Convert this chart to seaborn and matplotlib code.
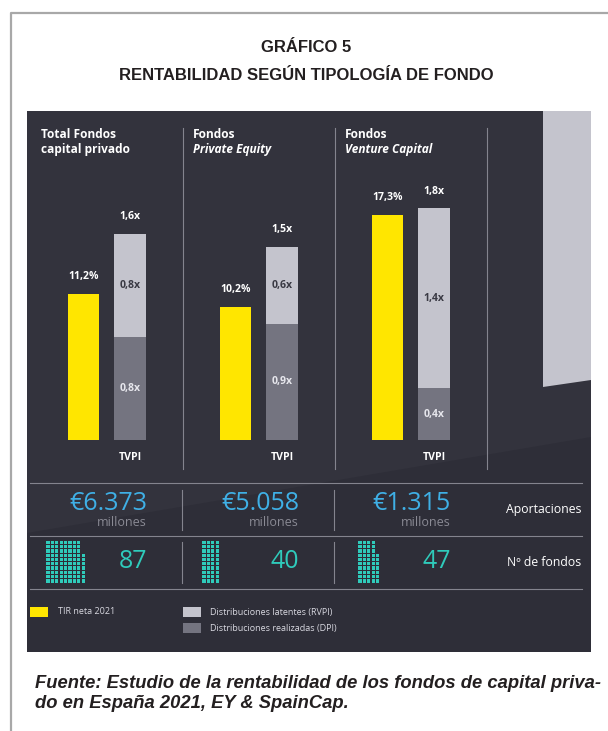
import numpy as np
import matplotlib.pyplot as plt
import matplotlib.patches as mpatches
import pandas as pd
import seaborn as sns

# datos del grafico
fondos = ["Total", "PE", "VC"]
titulo_1 = ["Total Fondos", "Fondos", "Fondos"]
titulo_2 = ["capital privado", "Private Equity", "Venture Capital"]
tir = [11.2, 10.2, 17.3]
dpi = [0.8, 0.9, 0.4]
rvpi = [0.8, 0.6, 1.4]
tvpi = [1.6, 1.5, 1.8]
aportaciones = ["€6.373", "€5.058", "€1.315"]
n_fondos = [87, 40, 47]
leyenda = ["TIR neta 2021", "Distribuciones latentes (RVPI)", "Distribuciones realizadas (DPI)"]

# colores
amarillo = "#ffe600"
gris_claro = "#c4c4cd"
gris_osc = "#747480"
fondo = "#2e2e38"
azul = "#3fb0e6"
turquesa = "#2fcbbb"
linea = "#84848e"

W, H = 608, 731
fig = plt.figure(figsize=(W / 100, H / 100), dpi=100)
plt.rcParams["font.family"] = ["Open Sans", "DejaVu Sans"]

# capa de fondo en pixeles
bg = fig.add_axes([0, 0, 1, 1])
bg.set_xlim(0, W)
bg.set_ylim(H, 0)
bg.axis("off")

# marco de la pagina
bg.plot([11, 11, W], [H, 13, 13], color="#a8a8a8", lw=1.6, solid_capstyle="butt")
bg.text(306, 48, "GRÁFICO 5", ha="center", va="center", fontsize=12,
        fontweight="bold", family="Liberation Sans", color="#231f20")
bg.text(306, 75, "RENTABILIDAD SEGÚN TIPOLOGÍA DE FONDO", ha="center", va="center",
        fontsize=12, fontweight="bold", family="Liberation Sans", color="#231f20")

# panel oscuro
bg.add_patch(mpatches.Rectangle((27, 111), 564, 541, color=fondo, lw=0))
bg.add_patch(mpatches.Polygon([(27, 111), (591, 111), (591, 437), (27, 533)],
                              closed=True, color="#33333d", lw=0))
bg.add_patch(mpatches.Polygon([(543, 111), (591, 111), (591, 380), (543, 387)],
                              closed=True, color=gris_claro, lw=0))

# separadores
for x in [183, 335, 487]:
    bg.plot([x, x], [128, 469], color=linea, lw=0.8)
for y in [483, 536, 589]:
    bg.plot([30, 582], [y, y], color=linea, lw=0.8)
for x in [182, 334]:
    bg.plot([x, x], [490, 530], color=linea, lw=0.8)
    bg.plot([x, x], [542, 583], color=linea, lw=0.8)

# cabeceras
for i in range(3):
    x0 = 41 + i * 152
    bg.text(x0, 134, titulo_1[i], ha="left", va="center", fontsize=8.6,
            fontweight="bold", color="white")
    bg.text(x0, 149, titulo_2[i], ha="left", va="center", fontsize=8.6,
            fontweight="bold", style="normal" if i == 0 else "italic", color="white")

# aportaciones y numero de fondos
for i in range(3):
    xr = 147 + i * 152
    bg.text(xr, 503, aportaciones[i], ha="right", va="center", fontsize=18, color=azul)
    bg.text(xr, 522, "millones", ha="right", va="center", fontsize=9, color="#8a8a94")
    bg.text(xr, 562, str(n_fondos[i]), ha="right", va="center", fontsize=18, color=turquesa)
    # rejilla de puntos, 10 filas, se llena por columnas desde abajo
    k = np.arange(n_fondos[i])
    px = 48 + i * 156 + (k // 10) * 4.4
    py = 581 - (k % 10) * 4.3
    sns.scatterplot(x=px, y=py, ax=bg, marker="s", s=5.5, color=turquesa,
                    edgecolor="none", linewidth=0, legend=False)
bg.text(581, 510, "Aportaciones", ha="right", va="center", fontsize=8.8, color="white")
bg.text(581, 562, "Nº de fondos", ha="right", va="center", fontsize=8.8, color="white")

# leyenda
bg.add_patch(mpatches.Rectangle((30, 607), 18, 10, color=amarillo, lw=0))
bg.add_patch(mpatches.Rectangle((183, 607), 18, 10, color=gris_claro, lw=0))
bg.add_patch(mpatches.Rectangle((183, 623), 18, 10, color=gris_osc, lw=0))
bg.text(58, 612, leyenda[0], ha="left", va="center", fontsize=6.5, color="#d8d8e0")
bg.text(210, 612, leyenda[1], ha="left", va="center", fontsize=6.5, color="#d8d8e0")
bg.text(210, 628, leyenda[2], ha="left", va="center", fontsize=6.5, color="#d8d8e0")

# fuente
bg.text(35, 683, "Fuente: Estudio de la rentabilidad de los fondos de capital priva-",
        ha="left", va="center", fontsize=13.2, fontweight="bold", style="italic",
        family="Liberation Sans", color="#231f20")
bg.text(35, 704, "do en España 2021, EY & SpainCap.",
        ha="left", va="center", fontsize=13.2, fontweight="bold", style="italic",
        family="Liberation Sans", color="#231f20")

# barras: dos ejes superpuestos con la misma base (TIR en %, TVPI en x)
rect = [27 / W, (H - 440) / H, 564 / W, 329 / H]
ax_tir = fig.add_axes(rect, facecolor="none")
ax_tv = fig.add_axes(rect, facecolor="none")

paso = 152.0
ancho = 2 * 46.5 / paso
hueco = 1 - 31.5 / 46.5
pal = {"TIR": amarillo, "TVPI": gris_claro}

df_tir = pd.DataFrame({"fondo": fondos, "serie": "TIR", "valor": tir})
df_tot = pd.DataFrame({"fondo": fondos, "serie": "TVPI", "valor": [d + r for d, r in zip(dpi, rvpi)]})
df_dpi = pd.DataFrame({"fondo": fondos, "serie": "TVPI", "valor": dpi})

comun = dict(x="fondo", y="valor", hue="serie", order=fondos, hue_order=["TIR", "TVPI"],
             width=ancho, gap=hueco, dodge=True, saturation=1, errorbar=None,
             linewidth=0, legend=False)
sns.barplot(data=df_tir, palette=pal, ax=ax_tir, **comun)
sns.barplot(data=df_tot, palette=pal, ax=ax_tv, **comun)
sns.barplot(data=df_dpi, palette={"TIR": amarillo, "TVPI": gris_osc}, ax=ax_tv, **comun)

x_izq = -(106.75 - 27) / paso
for ax, top in [(ax_tir, 329 / 13.0), (ax_tv, 329 / 129.0)]:
    ax.set_xlim(x_izq, x_izq + 564 / paso)
    ax.set_ylim(0, top)
    ax.axis("off")

def fmt(v, suf):
    return f"{v:.1f}".replace(".", ",") + suf

off = ancho / 4
for i in range(3):
    ax_tir.annotate(fmt(tir[i], "%"), (i - off, tir[i]), xytext=(0, 13),
                    textcoords="offset points", ha="center", va="center",
                    fontsize=7.6, fontweight="bold", color="white")
    ax_tv.annotate(fmt(tvpi[i], "x"), (i + off, dpi[i] + rvpi[i]), xytext=(0, 12),
                   textcoords="offset points", ha="center", va="center",
                   fontsize=7.6, fontweight="bold", color="white")
    ax_tv.text(i + off, dpi[i] + rvpi[i] / 2, fmt(rvpi[i], "x"), ha="center", va="center",
               fontsize=7.6, fontweight="bold", color="#3a3a44")
    ax_tv.text(i + off, dpi[i] / 2, fmt(dpi[i], "x"), ha="center", va="center",
               fontsize=7.6, fontweight="bold", color="#e6e6ec")
    ax_tv.annotate("TVPI", (i + off, 0), xytext=(0, -12.5), textcoords="offset points",
                   ha="center", va="center", fontsize=7.6, fontweight="bold", color="white")

fig.savefig("out.png", dpi=100, facecolor="white")
